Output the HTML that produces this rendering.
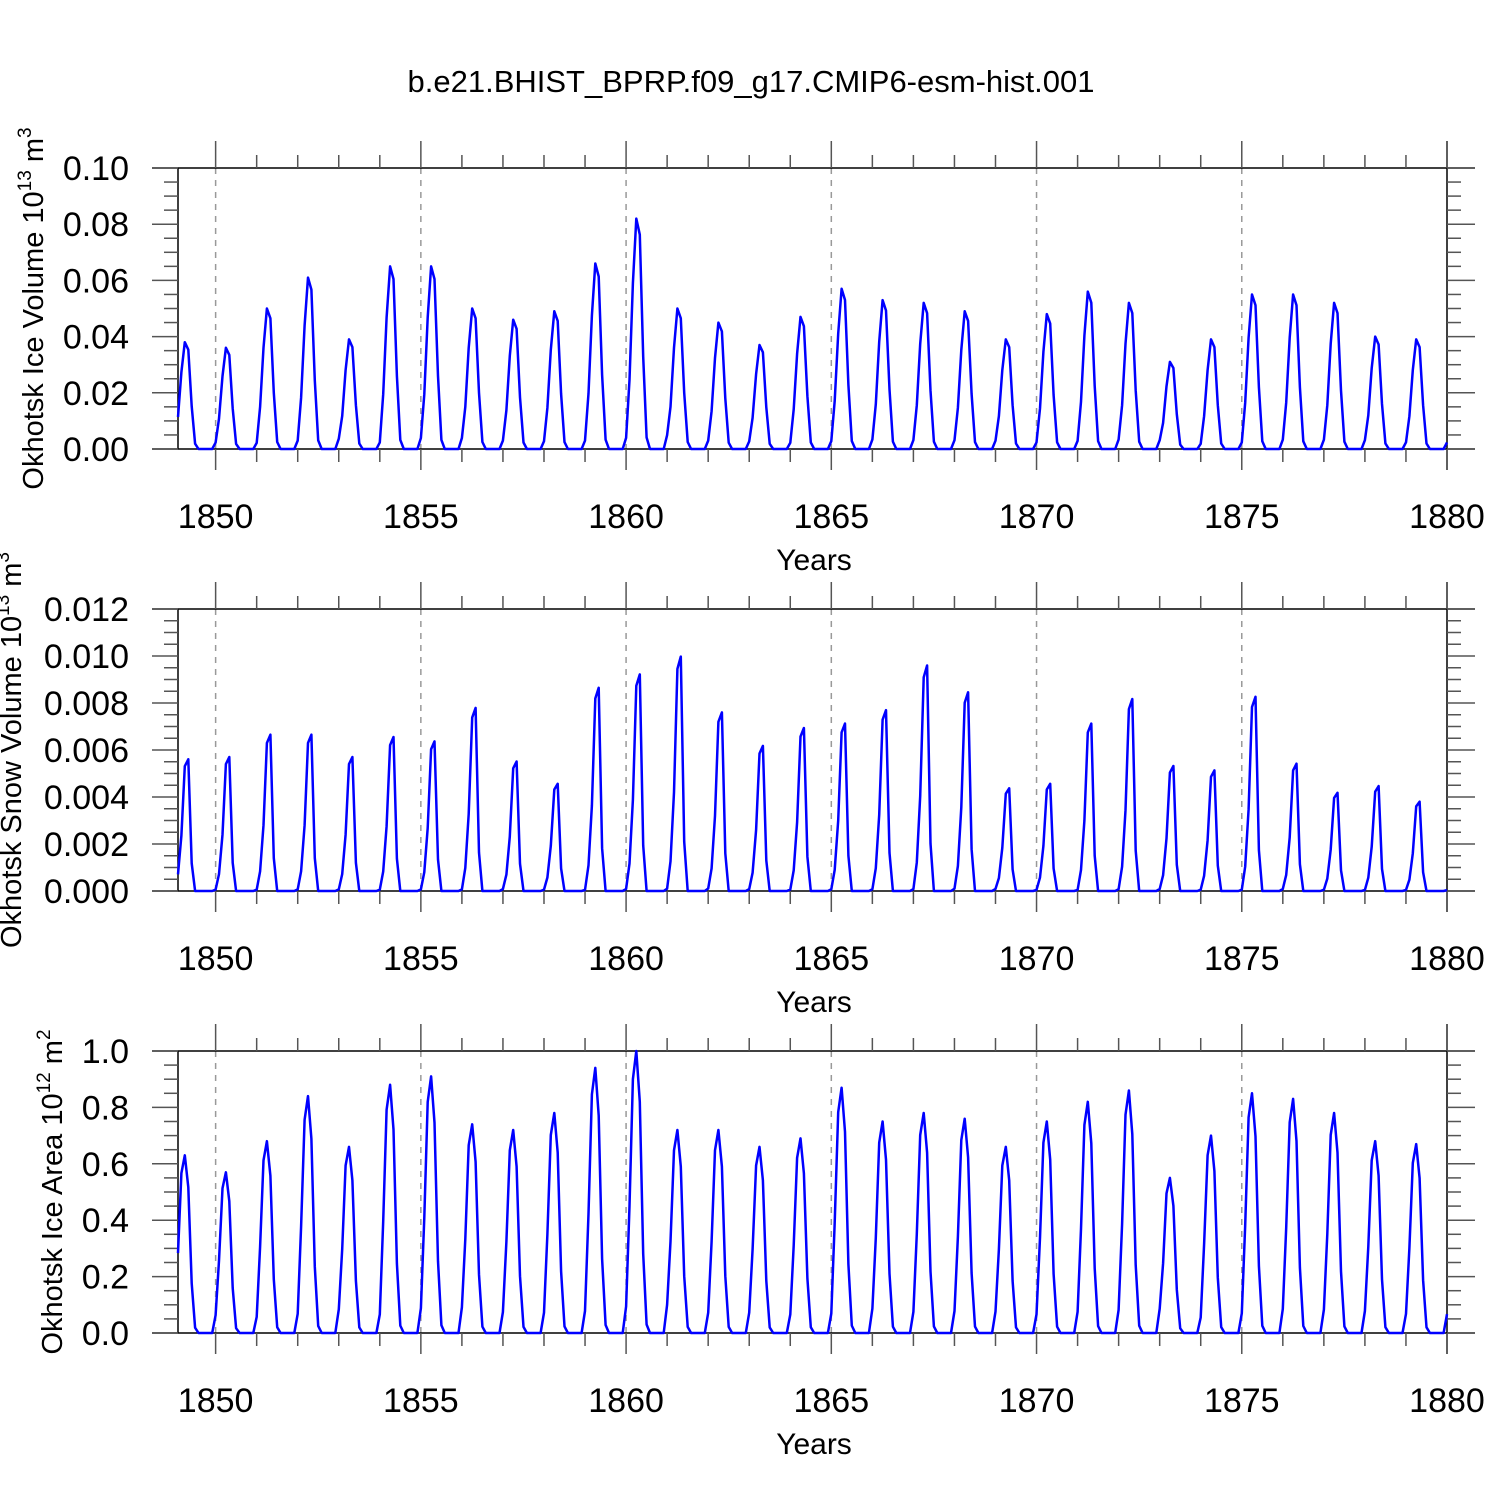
<!DOCTYPE html>
<html><head><meta charset="utf-8"><style>
body{margin:0;background:#fff}
svg{display:block;font-family:"Liberation Sans",sans-serif}
</style></head><body>
<svg id="chart" width="1500" height="1500" viewBox="0 0 1500 1500" xmlns="http://www.w3.org/2000/svg">
<text x="751" y="92" font-size="31" text-anchor="middle">b.e21.BHIST_BPRP.f09_g17.CMIP6-esm-hist.001</text>
</svg>
<script>
// Years 1849..1879 peak values
const years = [1849,1850,1851,1852,1853,1854,1855,1856,1857,1858,1859,1860,1861,1862,1863,1864,1865,1866,1867,1868,1869,1870,1871,1872,1873,1874,1875,1876,1877,1878,1879];
const icePeaks = [0.038,0.036,0.050,0.061,0.039,0.065,0.065,0.050,0.046,0.049,0.066,0.082,0.050,0.045,0.037,0.047,0.057,0.053,0.052,0.049,0.039,0.048,0.056,0.052,0.031,0.039,0.055,0.055,0.052,0.040,0.039];
const snowPeaks = [0.0059,0.0060,0.0070,0.0070,0.0060,0.0069,0.0067,0.0082,0.0058,0.0048,0.0091,0.0097,0.0105,0.0080,0.0065,0.0073,0.0075,0.0081,0.0101,0.0089,0.0046,0.0048,0.0075,0.0086,0.0056,0.0054,0.0087,0.0057,0.0044,0.0047,0.0040];
const areaPeaks = [0.63,0.57,0.68,0.84,0.66,0.88,0.91,0.74,0.72,0.78,0.94,1.00,0.72,0.72,0.66,0.69,0.87,0.75,0.78,0.76,0.66,0.75,0.82,0.86,0.55,0.70,0.85,0.83,0.78,0.68,0.67];
// Seasonal profile (fraction of annual peak, Jan..Dec; plotted at month end)
const iceShape = [0.3,0.72,1.0,0.93,0.4,0.05,0,0,0,0,0,0.06];
const snowShape = [0.12,0.4,0.9,0.95,0.2,0,0,0,0,0,0,0.01];
const areaShape = [0.45,0.9,1.0,0.82,0.28,0.03,0,0,0,0,0,0.1];
const xTicks = [1850,1855,1860,1865,1870,1875,1880];

const NS='http://www.w3.org/2000/svg';
const svg=document.getElementById('chart');
const X0=178,X1=1447,TMIN=1849+1/12,TMAX=1880;
const xs=t=>X0+(t-TMIN)/(TMAX-TMIN)*(X1-X0);
function mk(tag,attrs,parent){const e=document.createElementNS(NS,tag);for(const k in attrs)e.setAttribute(k,attrs[k]);(parent||svg).appendChild(e);return e;}

const panels=[
 {name:'ice-volume',top:168,bot:449,max:0.10,peaks:icePeaks,shape:iceShape,ticks:[0,0.02,0.04,0.06,0.08,0.10],dec:2,minor:0.005,title:'Okhotsk Ice Volume 10',sup:'13',unit:' m',usup:'3',tx:43},
 {name:'snow-volume',top:609,bot:891,max:0.012,peaks:snowPeaks,shape:snowShape,ticks:[0,0.002,0.004,0.006,0.008,0.010,0.012],dec:3,minor:0.0005,title:'Okhotsk Snow Volume 10',sup:'13',unit:' m',usup:'3',tx:21},
 {name:'ice-area',top:1051,bot:1333,max:1.0,peaks:areaPeaks,shape:areaShape,ticks:[0,0.2,0.4,0.6,0.8,1.0],dec:1,minor:0.05,title:'Okhotsk Ice Area 10',sup:'12',unit:' m',usup:'2',tx:62}
];

panels.forEach(p=>{
 const g=mk('g',{});
 
 
 const ys=v=>p.bot-(v/p.max)*(p.bot-p.top);
 xTicks.forEach(t=>{if(t<1880){const l=mk('line',{x1:xs(t),x2:xs(t),y1:p.top,y2:p.bot,stroke:'#999','stroke-width':1.5,'stroke-dasharray':'6,6'},g);
  
  }});
 mk('line',{x1:152,x2:1475,y1:p.top,y2:p.top,stroke:'#000','stroke-width':1.5},g);
 mk('line',{x1:152,x2:1475,y1:p.bot,y2:p.bot,stroke:'#000','stroke-width':1.5},g);
 mk('line',{x1:X0,x2:X0,y1:p.top,y2:p.bot,stroke:'#000','stroke-width':1.5},g);
 mk('line',{x1:X1,x2:X1,y1:p.top-27,y2:p.bot+21,stroke:'#000','stroke-width':1.5},g);
 for(let yr=1850;yr<=1880;yr++){
  const maj=yr%5===0,x=xs(yr);
  mk('line',{x1:x,x2:x,y1:p.top-(maj?27:13),y2:p.top,stroke:'#555','stroke-width':1.5},g);
  mk('line',{x1:x,x2:x,y1:p.bot,y2:p.bot+(maj?21:13),stroke:'#555','stroke-width':1.5},g);
 }
 xTicks.forEach(t=>{const tx=mk('text',{x:xs(t),y:p.bot+79,'font-size':34,'text-anchor':'middle'},g);tx.textContent=t;
  
  });
 const xt=mk('text',{x:814,y:p.bot+121,'font-size':30,'text-anchor':'middle'},g);xt.textContent='Years';
 
 
 const nMinor=Math.round(p.max/p.minor);
 for(let i=0;i<=nMinor;i++){const v=i*p.minor,y=ys(v),maj=i%4===0;
  mk('line',{x1:X0-(maj?26:14),x2:X0,y1:y,y2:y,stroke:'#555','stroke-width':1.5},g);
  mk('line',{x1:X1,x2:X1+(maj?28:14),y1:y,y2:y,stroke:'#555','stroke-width':1.5},g);}
 p.ticks.forEach(v=>{const tx=mk('text',{x:129,y:ys(v)+12,'font-size':34,'text-anchor':'end'},g);tx.textContent=v.toFixed(p.dec);
  
  });
 const yt=mk('text',{transform:`translate(${p.tx},${(p.top+p.bot)/2}) rotate(-90)`,'font-size':29,'text-anchor':'middle'},g);
 
 
 yt.innerHTML=`${p.title}<tspan dy="-12" font-size="19">${p.sup}</tspan><tspan dy="12">${p.unit}</tspan><tspan dy="-12" font-size="19">${p.usup}</tspan>`;
 const pts=[];
 years.forEach((yr,i)=>{for(let m=0;m<12;m++){const t=yr+(m+1)/12;pts.push([xs(t),ys(p.peaks[i]*p.shape[m])]);}});
 const path=mk('polyline',{points:pts.map(q=>q[0].toFixed(1)+','+q[1].toFixed(1)).join(' '),fill:'none',stroke:'#0000ff','stroke-width':2.5,'stroke-linejoin':'round'},g);
 
 
});
</script>
</body></html>
